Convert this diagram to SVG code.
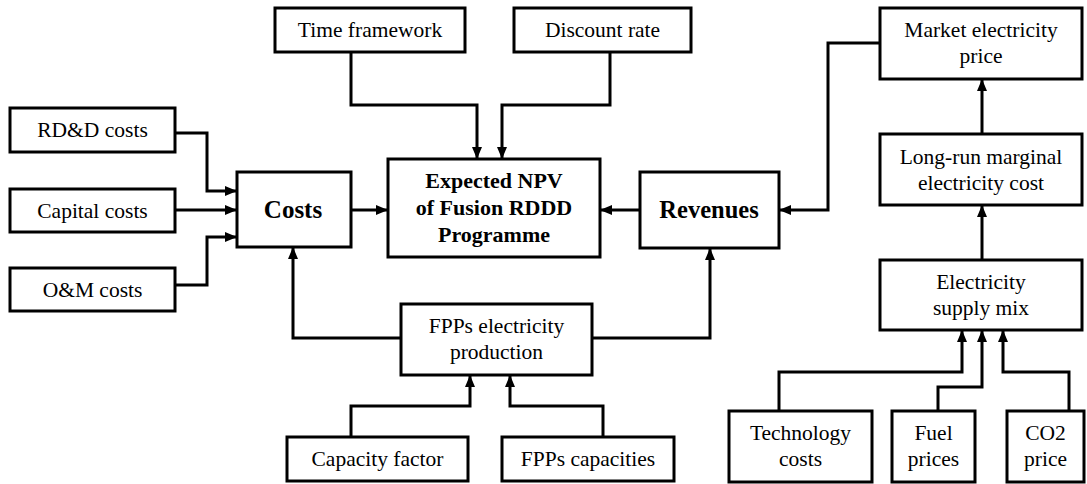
<svg xmlns="http://www.w3.org/2000/svg" width="1087" height="484" viewBox="0 0 1087 484">
<defs>
<marker id="ah" viewBox="0 0 12 10" markerUnits="userSpaceOnUse" markerWidth="12" markerHeight="10" refX="12" refY="5" orient="auto">
<path d="M0,0 L12,5 L0,10 z" fill="#000"/>
</marker>
</defs>
<style>
.box{fill:#fff;stroke:#000;stroke-width:3}
.c{fill:none;stroke:#000;stroke-width:3;marker-end:url(#ah)}
</style>
<rect width="1087" height="484" fill="#fff"/>
<g id="connectors">
<path class="c" d="M175,133 H207 V191 H237"/>
<path class="c" d="M175,210 H237"/>
<path class="c" d="M175,285 H207 V237 H237"/>
<path class="c" d="M351,210 H388"/>
<path class="c" d="M640,210 H600"/>
<path class="c" d="M351,52 V105 H477 V159"/>
<path class="c" d="M610,52 V105 H502 V159"/>
<path class="c" d="M880,43 H828 V210 H779"/>
<path class="c" d="M982,134 V79"/>
<path class="c" d="M982,260 V205"/>
<path class="c" d="M401,338 H293 V247"/>
<path class="c" d="M592,338 H710 V248"/>
<path class="c" d="M351,437 V406 H470 V375"/>
<path class="c" d="M603,437 V406 H510 V375"/>
<path class="c" d="M779,411 V372 H962 V330"/>
<path class="c" d="M938,411 V387 H982 V330"/>
<path class="c" d="M1069,411 V372 H1003 V330"/>
</g>
<g id="nodes" font-family="Liberation Serif" font-size="21.5" text-anchor="middle" fill="#000">
<g id="rdd"><rect class="box" x="10" y="108" width="165" height="44"/><text x="92.5" y="137">RD&amp;D costs</text></g>
<g id="capital"><rect class="box" x="10" y="189" width="165" height="43"/><text x="92.5" y="218">Capital costs</text></g>
<g id="om"><rect class="box" x="10" y="268" width="165" height="43"/><text x="92.5" y="297">O&amp;M costs</text></g>
<g id="costs"><rect class="box" x="237" y="172" width="114" height="75"/><text x="293" y="218" font-size="25" font-weight="bold">Costs</text></g>
<g id="time"><rect class="box" x="275" y="8" width="190" height="44"/><text x="370" y="37">Time framework</text></g>
<g id="discount"><rect class="box" x="514" y="8" width="177" height="44"/><text x="602.5" y="37">Discount rate</text></g>
<g id="npv"><rect class="box" x="388" y="159" width="212" height="98"/>
<text x="494" y="188" font-size="22" font-weight="bold">Expected NPV</text>
<text x="494" y="215" font-size="22" font-weight="bold">of Fusion RDDD</text>
<text x="494" y="242" font-size="22" font-weight="bold">Programme</text></g>
<g id="revenues"><rect class="box" x="640" y="172" width="139" height="76"/><text x="709" y="218" font-size="24.5" font-weight="bold">Revenues</text></g>
<g id="market"><rect class="box" x="880" y="8" width="202" height="71"/>
<text x="981" y="37">Market electricity</text><text x="981" y="63">price</text></g>
<g id="lrmc"><rect class="box" x="880" y="134" width="202" height="71"/>
<text x="981" y="164">Long-run marginal</text><text x="981" y="190">electricity cost</text></g>
<g id="mix"><rect class="box" x="880" y="260" width="202" height="70"/>
<text x="981" y="289">Electricity</text><text x="981" y="315">supply mix</text></g>
<g id="fpp"><rect class="box" x="401" y="304" width="191" height="71"/>
<text x="496.5" y="333">FPPs electricity</text><text x="496.5" y="359">production</text></g>
<g id="capfactor"><rect class="box" x="287" y="437" width="181" height="44"/><text x="377.5" y="466">Capacity factor</text></g>
<g id="fppcap"><rect class="box" x="502" y="437" width="172" height="44"/><text x="588" y="466">FPPs capacities</text></g>
<g id="tech"><rect class="box" x="729" y="411" width="143" height="71"/>
<text x="800.5" y="440">Technology</text><text x="800.5" y="466">costs</text></g>
<g id="fuel"><rect class="box" x="892" y="411" width="83" height="71"/>
<text x="933.5" y="440">Fuel</text><text x="933.5" y="466">prices</text></g>
<g id="co2"><rect class="box" x="1007" y="411" width="77" height="71"/>
<text x="1045.5" y="440">CO2</text><text x="1045.5" y="466">price</text></g>
</g>
</svg>
